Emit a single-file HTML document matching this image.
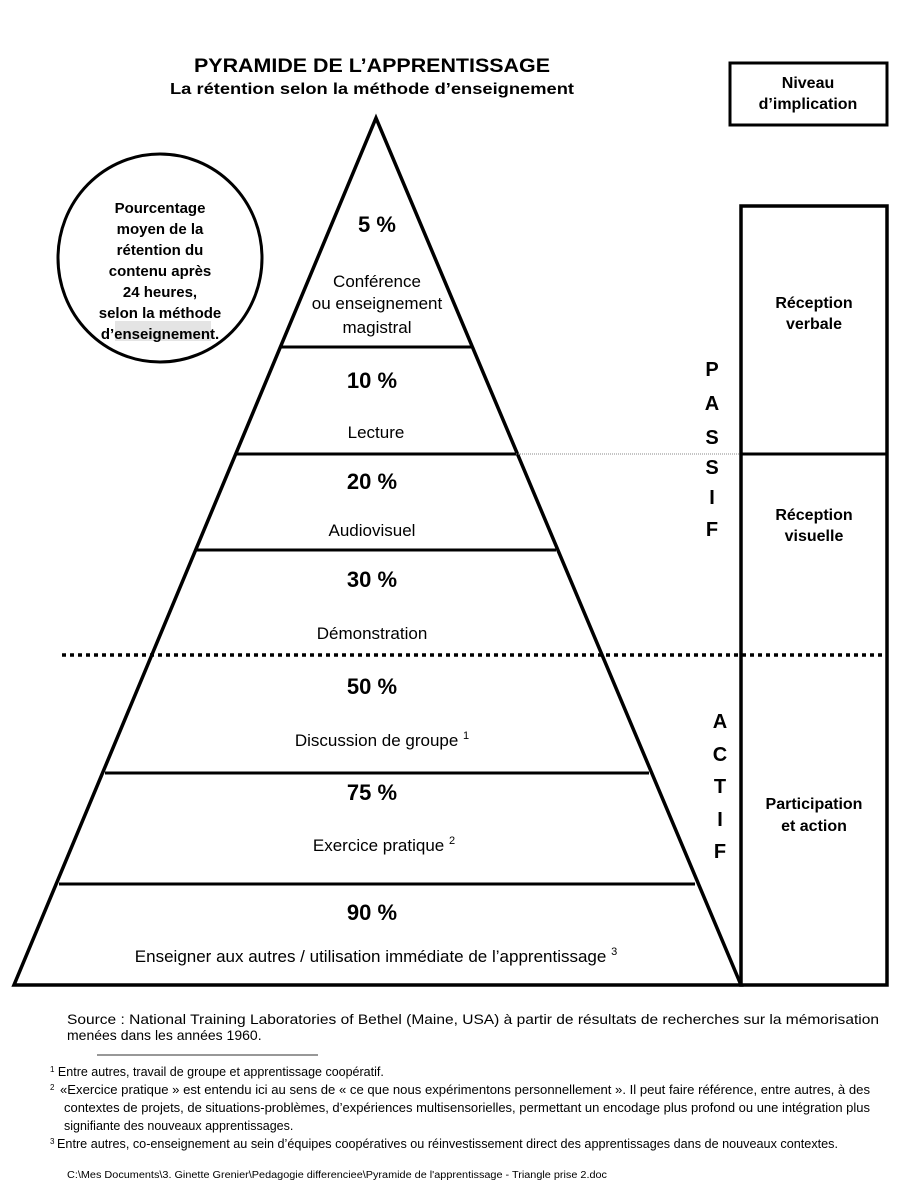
<!DOCTYPE html>
<html><head><meta charset="utf-8"><style>
body{margin:0;background:#fff;}
svg{display:block;font-family:"Liberation Sans Narrow","Liberation Sans",sans-serif;}
</style></head><body>
<svg width="916" height="1200" viewBox="0 0 916 1200" xmlns="http://www.w3.org/2000/svg">
<g fill="#000" text-anchor="middle">
<text x="372" y="72" font-size="19" font-weight="bold" textLength="356" lengthAdjust="spacingAndGlyphs">PYRAMIDE DE L’APPRENTISSAGE</text>
<text x="372" y="94" font-size="16" font-weight="bold" textLength="404" lengthAdjust="spacingAndGlyphs">La rétention selon la méthode d’enseignement</text>
</g>
<rect x="730" y="63" width="157" height="62" fill="none" stroke="#000" stroke-width="3"/>
<g text-anchor="middle" font-size="16" font-weight="bold">
<text x="808" y="88">Niveau</text><text x="808" y="109">d’implication</text>
</g>
<ellipse cx="160" cy="258" rx="102" ry="104" fill="none" stroke="#000" stroke-width="3"/>
<rect x="115" y="321" width="96" height="20" fill="#e4e4e4"/>
<g text-anchor="middle" font-size="15" font-weight="bold">
<text x="160" y="213">Pourcentage</text><text x="160" y="234">moyen de la</text><text x="160" y="255">rétention du</text><text x="160" y="276">contenu après</text><text x="160" y="297">24 heures,</text><text x="160" y="318">selon la méthode</text><text x="160" y="339">d’enseignement.</text>
</g>
<polygon points="376,118 741,985 14,985" fill="none" stroke="#000" stroke-width="3.5" stroke-linejoin="miter"/>
<g stroke="#000" stroke-width="3">
<line x1="281" y1="347" x2="471" y2="347"/>
<line x1="236" y1="454" x2="516" y2="454"/>
<line x1="196" y1="550" x2="556" y2="550"/>
<line x1="105" y1="773" x2="649" y2="773"/>
<line x1="59" y1="884" x2="695" y2="884"/>
</g>
<line x1="516" y1="454" x2="741" y2="454" stroke="#888" stroke-width="1" stroke-dasharray="1,1"/>
<line x1="62" y1="655" x2="888" y2="655" stroke="#000" stroke-width="3.5" stroke-dasharray="4,4"/>
<rect x="741" y="206" width="146" height="779" fill="none" stroke="#000" stroke-width="3.5"/>
<line x1="741" y1="454" x2="887" y2="454" stroke="#000" stroke-width="3"/>
<g text-anchor="middle" font-size="16" font-weight="bold">
<text x="814" y="308">Réception</text><text x="814" y="329">verbale</text>
<text x="814" y="520">Réception</text><text x="814" y="541">visuelle</text>
<text x="814" y="809">Participation</text><text x="814" y="831">et action</text>
</g>
<g text-anchor="middle" font-size="20" font-weight="bold" font-family="Liberation Sans,sans-serif">
<text x="712" y="376">P</text><text x="712" y="410">A</text><text x="712" y="444">S</text><text x="712" y="474">S</text><text x="712" y="504">I</text><text x="712" y="536">F</text>
<text x="720" y="728">A</text><text x="720" y="761">C</text><text x="720" y="793">T</text><text x="720" y="826">I</text><text x="720" y="858">F</text>
</g>
<g text-anchor="middle" font-size="22" font-weight="bold">
<text x="377" y="232">5 %</text>
<text x="372" y="388">10 %</text>
<text x="372" y="489">20 %</text>
<text x="372" y="587">30 %</text>
<text x="372" y="694">50 %</text>
<text x="372" y="800">75 %</text>
<text x="372" y="920">90 %</text>
</g>
<g text-anchor="middle" font-size="17">
<text x="377" y="287">Conférence</text><text x="377" y="309">ou enseignement</text><text x="377" y="333">magistral</text>
<text x="376" y="438">Lecture</text>
<text x="372" y="536">Audiovisuel</text>
<text x="372" y="639">Démonstration</text>
<text x="382" y="746">Discussion de groupe <tspan font-size="11" dy="-7">1</tspan></text>
<text x="384" y="851">Exercice pratique <tspan font-size="11" dy="-7">2</tspan></text>
<text x="376" y="962">Enseigner aux autres / utilisation immédiate de l’apprentissage <tspan font-size="11" dy="-7">3</tspan></text>
</g>
<g font-size="14">
<text x="67" y="1024" textLength="812" lengthAdjust="spacingAndGlyphs">Source :  National Training Laboratories of Bethel (Maine, USA) à partir de résultats  de recherches sur la mémorisation</text>
<text x="67" y="1040">menées dans les années 1960.</text>
</g>
<line x1="97" y1="1055" x2="318" y2="1055" stroke="#777" stroke-width="1.5"/>
<g font-size="12.5">
<text x="50" y="1076"><tspan font-size="8" dy="-4">1</tspan><tspan dy="4"> Entre autres, travail de groupe et apprentissage coopératif.</tspan></text>
<text x="50" y="1094"><tspan font-size="8" dy="-4">2</tspan></text>
<text x="60" y="1094" textLength="810" lengthAdjust="spacingAndGlyphs">«Exercice pratique » est entendu ici au sens de « ce que nous expérimentons personnellement ». Il peut faire référence, entre autres, à des</text>
<text x="64" y="1112" textLength="806" lengthAdjust="spacingAndGlyphs">contextes de projets, de situations-problèmes, d’expériences multisensorielles, permettant un encodage plus profond ou une intégration plus</text>
<text x="64" y="1130">signifiante des nouveaux apprentissages.</text>
<text x="50" y="1148"><tspan font-size="8" dy="-4">3</tspan></text>
<text x="57" y="1148" textLength="781" lengthAdjust="spacingAndGlyphs">Entre autres, co-enseignement au sein d’équipes coopératives ou réinvestissement direct des apprentissages dans de nouveaux contextes.</text>
</g>
<text x="67" y="1178" font-size="10" textLength="540" lengthAdjust="spacingAndGlyphs">C:\Mes Documents\3. Ginette Grenier\Pedagogie differenciee\Pyramide de l'apprentissage - Triangle prise 2.doc</text>
</svg>
</body></html>
